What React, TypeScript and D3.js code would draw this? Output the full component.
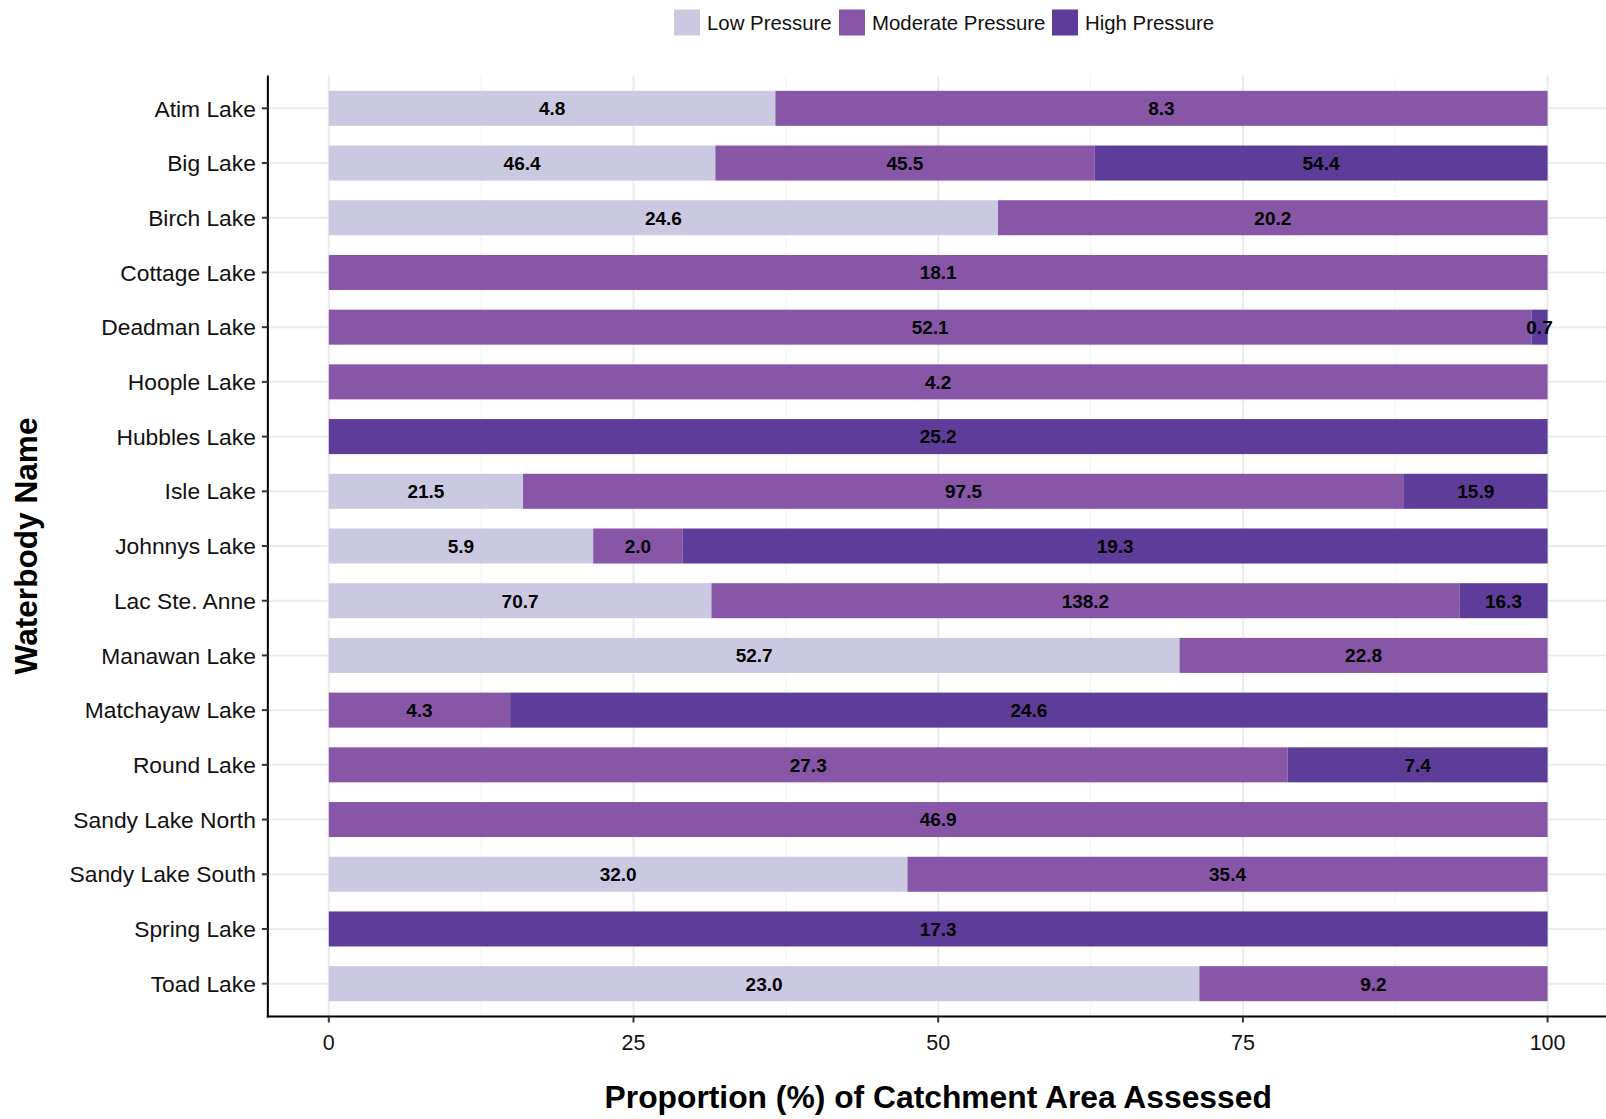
import React from "react";
import * as d3 from "d3";

const lakes = [
  "Atim Lake", "Big Lake", "Birch Lake", "Cottage Lake", "Deadman Lake", "Hoople Lake",
  "Hubbles Lake", "Isle Lake", "Johnnys Lake", "Lac Ste. Anne", "Manawan Lake",
  "Matchayaw Lake", "Round Lake", "Sandy Lake North", "Sandy Lake South", "Spring Lake", "Toad Lake",
];
const lowValues = [4.8, 46.4, 24.6, 0, 0, 0, 0, 21.5, 5.9, 70.7, 52.7, 0, 0, 0, 32.0, 0, 23.0];
const moderateValues = [8.3, 45.5, 20.2, 18.1, 52.1, 4.2, 0, 97.5, 2.0, 138.2, 22.8, 4.3, 27.3, 46.9, 35.4, 0, 9.2];
const highValues = [0, 54.4, 0, 0, 0.7, 0, 25.2, 15.9, 19.3, 16.3, 0, 24.6, 7.4, 0, 0, 17.3, 0];
const seriesNames = ["Low Pressure", "Moderate Pressure", "High Pressure"];
const seriesColors = ["#cbc9e2", "#8856a7", "#5e3c99"];
const xTicks = [0, 25, 50, 75, 100];
const xMinor = [12.5, 37.5, 62.5, 87.5];

const W = 1606, H = 1119;
const FONT = "Liberation Sans, Arial, sans-serif";

export default function App() {
  const x = d3.scaleLinear().domain([0, 100]).range([328.8, 1547.6]);
  const panelLeft = x(-5);
  const panelTop = 75.5;
  const panelBottom = 1016.5;
  const y = d3.scalePoint<string>().domain(lakes).range([panelTop, panelBottom]).padding(0.6);
  const step = y.step();
  const barH = step * 0.64;

  const rows = lakes.map((lake, i) => {
    const vals = [lowValues[i], moderateValues[i], highValues[i]];
    const total = d3.sum(vals);
    let cum = 0;
    const segs = vals.map((v, k) => {
      const start = (cum / total) * 100;
      cum += v;
      const end = (cum / total) * 100;
      return { v, k, start, end };
    });
    return { lake, segs };
  });

  const legendX = [674, 839, 1052];

  return (
    <svg width={W} height={H} style={{ position: "absolute", left: 0, top: 0, background: "#fff" }} fontFamily={FONT}>
      {xMinor.map((t) => (
        <line key={"mn" + t} x1={x(t)} x2={x(t)} y1={panelTop} y2={panelBottom} stroke="#f3f3f3" strokeWidth={1} />
      ))}
      {xTicks.map((t) => (
        <line key={"mj" + t} x1={x(t)} x2={x(t)} y1={panelTop} y2={panelBottom} stroke="#ebebeb" strokeWidth={2} />
      ))}
      {lakes.map((l) => (
        <line key={"hg" + l} x1={panelLeft} x2={W} y1={y(l)} y2={y(l)} stroke="#ebebeb" strokeWidth={2} />
      ))}
      {rows.map((r) =>
        r.segs.filter((s) => s.v > 0).map((s) => (
          <rect key={r.lake + s.k} x={x(s.start)} width={x(s.end) - x(s.start)} y={(y(r.lake) as number) - barH / 2} height={barH} fill={seriesColors[s.k]} />
        ))
      )}
      {rows.map((r) =>
        r.segs.filter((s) => s.v > 0).map((s) => (
          <text key={"t" + r.lake + s.k} x={x((s.start + s.end) / 2)} y={y(r.lake) as number} dy="0.36em" textAnchor="middle" fontWeight="bold" fontSize={19} fill="#000">
            {d3.format(".1f")(s.v)}
          </text>
        ))
      )}
      <line x1={panelLeft} x2={panelLeft} y1={panelTop} y2={panelBottom + 1} stroke="#000" strokeWidth={2} />
      <line x1={panelLeft - 1} x2={W} y1={panelBottom} y2={panelBottom} stroke="#000" strokeWidth={2} />
      {lakes.map((l) => (
        <g key={"yt" + l}>
          <line x1={panelLeft - 6} x2={panelLeft} y1={y(l)} y2={y(l)} stroke="#333" strokeWidth={2} />
          <text x={panelLeft - 12} y={y(l) as number} dy="0.36em" textAnchor="end" fontSize={22.8} fill="#111">{l}</text>
        </g>
      ))}
      {xTicks.map((t) => (
        <g key={"xt" + t}>
          <line x1={x(t)} x2={x(t)} y1={panelBottom} y2={panelBottom + 6} stroke="#333" strokeWidth={2} />
          <text x={x(t)} y={panelBottom + 26} dy="0.36em" textAnchor="middle" fontSize={21.5} fill="#111">{t}</text>
        </g>
      ))}
      <text x={x(50)} y={1097} dy="0.36em" textAnchor="middle" fontSize={31.8} fontWeight="bold" fill="#000">
        Proportion (%) of Catchment Area Assessed
      </text>
      <text transform={`translate(25.6,${(panelTop + panelBottom) / 2}) rotate(-90)`} dy="0.36em" textAnchor="middle" fontSize={31.6} fontWeight="bold" fill="#000">
        Waterbody Name
      </text>
      {seriesNames.map((n, k) => (
        <g key={"lg" + n}>
          <rect x={legendX[k]} y={9.5} width={26} height={26} fill={seriesColors[k]} />
          <text x={legendX[k] + 33} y={22.5} dy="0.36em" fontSize={20.4} fill="#111">{n}</text>
        </g>
      ))}
    </svg>
  );
}
